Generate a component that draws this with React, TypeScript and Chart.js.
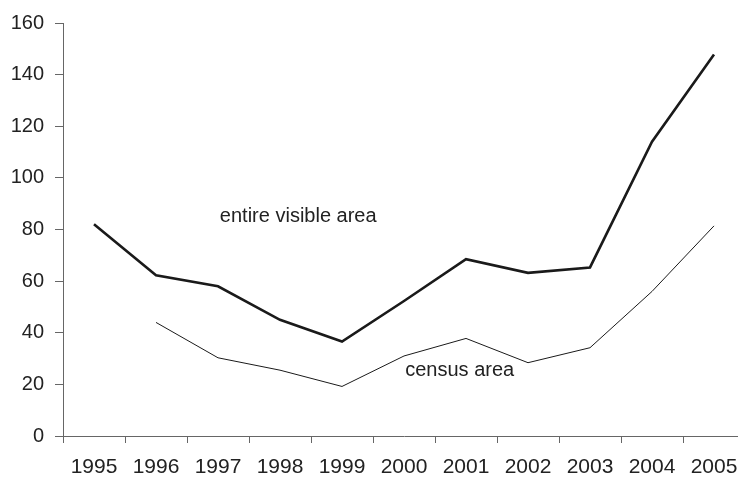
import React, { useEffect, useRef } from "react";
import { Chart, registerables } from "chart.js";

Chart.register(...registerables);

const years = ["1995", "1996", "1997", "1998", "1999", "2000", "2001", "2002", "2003", "2004", "2005"];
const entireVisibleArea = [82, 62.3, 58, 45, 36.6, 52.3, 68.5, 63.2, 65.3, 114, 147.8];
const censusArea = [null, 44, 30.3, 25.5, 19.2, 31, 37.8, 28.4, 34.2, 56, 81.4];
const yTicks = [0, 20, 40, 60, 80, 100, 120, 140, 160];

const annotations = [
  { text: "entire visible area", index: 2.03, value: 83 },
  { text: "census area", index: 5.02, value: 23.3 },
];

const FONT = "'Liberation Sans', Arial, Helvetica, sans-serif";
const TEXT = "#222";
const AXIS = "#666";

const labelPlugin = {
  id: "seriesLabels",
  afterDatasetsDraw(chart: any) {
    const { ctx, scales } = chart;
    ctx.save();
    ctx.font = `20px ${FONT}`;
    ctx.fillStyle = TEXT;
    ctx.textAlign = "left";
    ctx.textBaseline = "alphabetic";
    for (const a of annotations) {
      const x = scales.x.getPixelForValue(a.index);
      const y = scales.y.getPixelForValue(a.value);
      ctx.fillText(a.text, x, y);
    }
    ctx.restore();
  },
};

export default function App() {
  const ref = useRef<HTMLCanvasElement>(null);
  useEffect(() => {
    const canvas = ref.current!;
    const chart = new Chart(canvas, {
      type: "line",
      data: {
        labels: years,
        datasets: [
          {
            label: "entire visible area",
            data: entireVisibleArea,
            borderColor: "#1a1a1a",
            borderWidth: 2.6,
            pointRadius: 0,
            tension: 0,
            fill: false,
          },
          {
            label: "census area",
            data: censusArea,
            borderColor: "#1a1a1a",
            borderWidth: 1,
            pointRadius: 0,
            tension: 0,
            fill: false,
          },
        ],
      },
      options: {
        responsive: false,
        animation: false,
        devicePixelRatio: 1,
        layout: { padding: { top: 20, right: 1, left: 0, bottom: 0 } },
        plugins: { legend: { display: false }, tooltip: { enabled: false } },
        scales: {
          x: {
            type: "category",
            offset: true,
            grid: { offset: true, drawOnChartArea: false, tickLength: 7, color: AXIS, lineWidth: 1 },
            border: { color: AXIS, width: 1 },
            ticks: { color: TEXT, font: { family: FONT, size: 21 }, padding: 12, maxRotation: 0, autoSkip: false },
            afterFit(scale: any) {
              scale.height = 43;
              scale.paddingLeft = 0;
              scale.paddingRight = 0;
            },
          },
          y: {
            min: 0,
            max: 160,
            afterBuildTicks(scale: any) {
              scale.ticks = yTicks.map((v) => ({ value: v }));
            },
            grid: { drawOnChartArea: false, tickLength: 8, color: AXIS, lineWidth: 1 },
            border: { color: AXIS, width: 1 },
            ticks: { color: TEXT, font: { family: FONT, size: 20 }, padding: 11 },
            afterFit(scale: any) {
              scale.width = 63;
            },
          },
        },
      },
      plugins: [labelPlugin],
    });
    return () => chart.destroy();
  }, []);
  return (
    <div style={{ position: "fixed", left: 0, top: 0, width: 738, height: 479, overflow: "hidden", background: "#fff" }}>
      <canvas ref={ref} width={746} height={479} style={{ position: "absolute", left: 0, top: 0, width: 746, height: 479 }} />
    </div>
  );
}
